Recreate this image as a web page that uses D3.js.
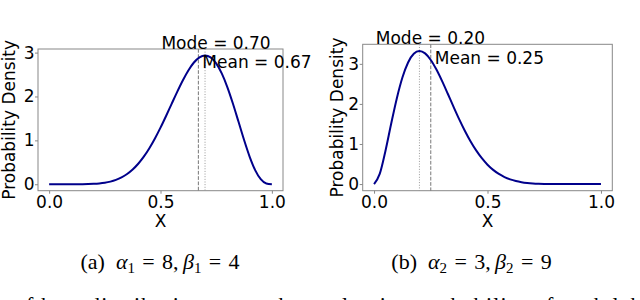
<html>
<head>
<title>Beta distributions</title>
<script src="https://d3js.org/d3.v7.min.js"></script>
<style>
  body { margin: 0; background: #fff; }
  text { font-family: "DejaVu Sans", sans-serif; }
  .cap text, text.cap { font-family: "Liberation Serif", "Times New Roman", serif; }
</style>
</head>
<body>
<script>
// x grid shared by both panels
var xs = [0, 0.025, 0.05, 0.075, 0.1, 0.125, 0.15, 0.175, 0.2, 0.225, 0.25, 0.275, 0.3, 0.325, 0.35, 0.375,
          0.4, 0.425, 0.45, 0.475, 0.5, 0.525, 0.55, 0.575, 0.6, 0.625, 0.65, 0.675, 0.7, 0.725, 0.75, 0.775,
          0.8, 0.825, 0.85, 0.875, 0.9, 0.925, 0.95, 0.975, 1.0];

// panel (a) density values, alpha=8 beta=4
var densA = [0, 0, 0, 0, 0.0001, 0.0004, 0.0014, 0.0037, 0.0087, 0.0179, 0.034, 0.0598, 0.099, 0.1555, 0.2332, 0.3361,
             0.4671, 0.6285, 0.8206, 1.0421, 1.2891, 1.5551, 1.8312, 2.1059, 2.3649, 2.5932, 2.7744, 2.8931, 2.9355, 2.8904, 2.753, 2.5249,
             2.2146, 1.8402, 1.4282, 1.0124, 0.6313, 0.3227, 0.1152, 0.0173, 0];

// panel (b) density values, alpha=3 beta=9
var densB = [0, 0.2527, 0.821, 1.4923, 2.1308, 2.6576, 3.0349, 3.2532, 3.3219, 3.2612, 3.0972, 2.8574, 2.5682, 2.2532, 1.9321, 1.6207,
             1.3303, 1.0684, 0.8393, 0.6446, 0.4834, 0.3536, 0.2518, 0.1742, 0.1168, 0.0756, 0.0471, 0.0281, 0.0159, 0.0085, 0.0042, 0.002,
             0.0008, 0.0003, 0.0001, 0, 0, 0, 0, 0, 0];

var xTicks = [0, 0.5, 1.0];
var yTicks = [0, 1, 2, 3];
var modes = [0.70, 0.20];
var means = [0.67, 0.25];
var peaks = [2.9355, 3.3219];
var captions = [["(a)", "8", "4", "1"], ["(b)", "3", "9", "2"]];

var svg = d3.select("body").append("svg")
  .attr("width", 640).attr("height", 300)
  .style("display", "block");

svg.append("rect").attr("width", 640).attr("height", 300).attr("fill", "#fff");

function drawPanel(cfg) {
  var g = svg.append("g");
  var x = d3.scaleLinear().domain([-0.05, 1.05]).range([cfg.left, cfg.right]);
  var y = d3.scaleLinear().domain(cfg.ydom).range([cfg.bottom, cfg.top]);

  // frame
  g.append("rect")
    .attr("x", cfg.left).attr("y", cfg.top)
    .attr("width", cfg.right - cfg.left).attr("height", cfg.bottom - cfg.top)
    .attr("fill", "none").attr("stroke", "#888").attr("stroke-width", 1);

  var xa = g.append("g").attr("transform", "translate(0," + cfg.bottom + ")")
    .call(d3.axisBottom(x).tickValues(xTicks).tickFormat(d3.format(".1f")).tickSize(3).tickPadding(2));
  var ya = g.append("g").attr("transform", "translate(" + cfg.left + ",0)")
    .call(d3.axisLeft(y).tickValues(yTicks).tickFormat(d3.format("d")).tickSize(3).tickPadding(0.5));
  [xa, ya].forEach(function(a) {
    a.select(".domain").remove();
    a.selectAll("line").attr("stroke", "#888");
    a.selectAll("text").attr("fill", "#000").style("font-size", "17px").style("font-family", "DejaVu Sans");
  });

  // mean (dashed) and mode (dotted) lines
  g.append("line")
    .attr("x1", x(cfg.mean)).attr("x2", x(cfg.mean))
    .attr("y1", cfg.top).attr("y2", cfg.bottom)
    .attr("stroke", "#777").attr("stroke-width", 1).attr("stroke-dasharray", "3.7,1.6");
  g.append("line")
    .attr("x1", x(cfg.mode)).attr("x2", x(cfg.mode))
    .attr("y1", cfg.top).attr("y2", cfg.bottom)
    .attr("stroke", "#999").attr("stroke-width", 1).attr("stroke-dasharray", "1,1.65");

  var line = d3.line()
    .x(function(d) { return x(d[0]); })
    .y(function(d) { return y(d[1]); })
    .curve(d3.curveMonotoneX);
  g.append("path")
    .datum(xs.map(function(v, i) { return [v, cfg.dens[i]]; }))
    .attr("d", line)
    .attr("fill", "none").attr("stroke", "#00008b").attr("stroke-width", 2);

  g.append("text")
    .attr("x", x(cfg.mode) + 11).attr("y", y(cfg.peak) - 6.5)
    .attr("text-anchor", "middle").style("font-size", "17px")
    .text("Mode = " + cfg.mode.toFixed(2));
  g.append("text")
    .attr("x", x(cfg.mean) + 4).attr("y", y(cfg.peak) + 13)
    .style("font-size", "17px")
    .text("Mean = " + cfg.mean.toFixed(2));

  g.append("text")
    .attr("x", (cfg.left + cfg.right) / 2).attr("y", 227)
    .attr("text-anchor", "middle").style("font-size", "17px")
    .text("X");
  g.append("text")
    .attr("transform", "translate(" + cfg.ylabX + "," + ((cfg.top + cfg.bottom) / 2) + ") rotate(-90)")
    .attr("text-anchor", "middle").style("font-size", "17px")
    .text("Probability Density");

  // caption
  var c = cfg.cap;
  var t = g.append("text").attr("class", "cap")
    .attr("x", cfg.capX).attr("y", 269).attr("text-anchor", "middle")
    .style("font-size", "22px");
  t.append("tspan").text(c[0] + "\u2002");
  t.append("tspan").style("font-style", "italic").text("\u03b1");
  t.append("tspan").attr("dy", 4).style("font-size", "15px").text(c[3]);
  t.append("tspan").attr("dy", -4).text("\u2004=\u2004" + c[1] + ",\u2009");
  t.append("tspan").style("font-style", "italic").text("\u03b2");
  t.append("tspan").attr("dy", 4).style("font-size", "15px").text(c[3]);
  t.append("tspan").attr("dy", -4).text("\u2004=\u2004" + c[2]);
}

drawPanel({ left: 38, right: 283, top: 49, bottom: 190.7, ydom: [-0.147, 3.082],
            dens: densA, mode: modes[0], mean: means[0], peak: peaks[0],
            ylabX: 15, capX: 160, cap: captions[0] });
drawPanel({ left: 362.7, right: 612.3, top: 44.3, bottom: 190.7, ydom: [-0.166, 3.488],
            dens: densB, mode: modes[1], mean: means[1], peak: peaks[1],
            ylabX: 343, capX: 471.5, cap: captions[1] });

// clipped line of running text at the bottom edge
svg.append("text").attr("class", "cap")
  .attr("x", 0).attr("y", 312)
  .attr("textLength", 660).attr("lengthAdjust", "spacing")
  .style("font-size", "22px")
  .text("t of beta distributions over the evaluation probability of each label");
</script>
</body>
</html>
